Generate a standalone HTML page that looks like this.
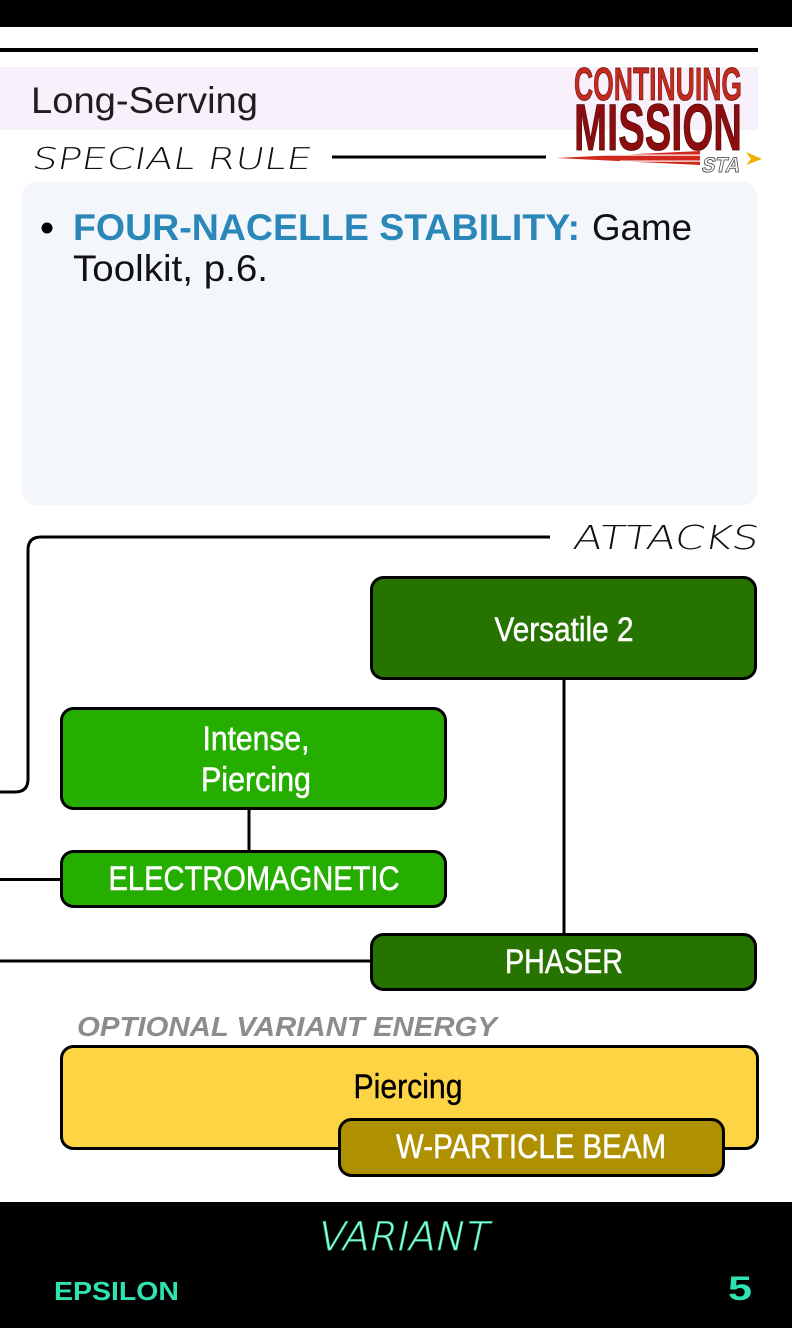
<!DOCTYPE html>
<html>
<head>
<meta charset="utf-8">
<style>
html,body{margin:0;padding:0;background:#fff;}
svg{display:block;}
text{font-family:"Liberation Sans",Arial,sans-serif;}
.thin{font-family:"DejaVu Sans","Liberation Sans",sans-serif;font-weight:200;}
.lbl{stroke:#fff;stroke-width:0.5;}
</style>
</head>
<body>
<svg width="792" height="1328" viewBox="0 0 792 1328" xmlns="http://www.w3.org/2000/svg">
  <!-- top bar -->
  <rect x="0" y="0" width="792" height="27" fill="#000"/>
  <rect x="0" y="48" width="758" height="4" fill="#000"/>
  <!-- lavender title band -->
  <rect x="0" y="67" width="758" height="63" fill="#f8f1fc"/>
  <text x="31" y="113" font-size="37" fill="#1e1e1e" textLength="227" lengthAdjust="spacingAndGlyphs">Long-Serving</text>

  <!-- SPECIAL RULE heading -->
  <g transform="translate(31,169) skewX(-10)">
    <text class="thin" x="0" y="0" font-size="30" fill="#111" textLength="279" lengthAdjust="spacingAndGlyphs">SPECIAL RULE</text>
  </g>
  <rect x="332" y="155.5" width="214" height="3" fill="#000"/>

  <!-- logo -->
  <g>
    <text x="574" y="100" font-size="46" font-weight="bold" fill="#c42b1f" stroke="#6a0d0d" stroke-width="0.8" textLength="168" lengthAdjust="spacingAndGlyphs">CONTINUING</text>
    <text x="574" y="150" font-size="66" font-weight="bold" fill="#8c0d0d" stroke="#4a0505" stroke-width="0.8" textLength="168" lengthAdjust="spacingAndGlyphs">MISSION</text>
    <polygon points="556,158 700,151 700,165" fill="#d0281c"/>
    <rect x="600" y="154.5" width="100" height="1.2" fill="#fff"/>
    <rect x="620" y="160.5" width="80" height="1.2" fill="#fff"/>
    <g transform="translate(701,172) skewX(-12)">
      <text x="0" y="0" font-size="21" font-weight="bold" fill="#fff" stroke="#555" stroke-width="0.9" textLength="38" lengthAdjust="spacingAndGlyphs">STA</text>
    </g>
    <polygon points="746,152 762,159 746,165 751,159" fill="#f0b000"/>
  </g>

  <!-- special rule box -->
  <rect x="22" y="182" width="735" height="323" rx="14" ry="14" fill="#f3f7fb"/>
  <circle cx="47" cy="228" r="5.5" fill="#000"/>
  <text x="73" y="240" font-size="37" font-weight="bold" fill="#2a87b8" textLength="507" lengthAdjust="spacingAndGlyphs">FOUR-NACELLE STABILITY:</text>
  <text x="592" y="240" font-size="37" fill="#111" textLength="100" lengthAdjust="spacingAndGlyphs">Game</text>
  <text x="73" y="281" font-size="37" fill="#111" textLength="195" lengthAdjust="spacingAndGlyphs">Toolkit, p.6.</text>

  <!-- ATTACKS heading -->
  <g transform="translate(572,549) skewX(-10)">
    <text class="thin" x="0" y="0" font-size="33" fill="#111" textLength="185" lengthAdjust="spacingAndGlyphs">ATTACKS</text>
  </g>
  <path d="M 550 537 H 41 Q 28 537 28 550 V 779 Q 28 792 15 792 H 0" fill="none" stroke="#000" stroke-width="3"/>

  <!-- connectors -->
  <line x1="564" y1="680" x2="564" y2="934" stroke="#000" stroke-width="3"/>
  <line x1="249" y1="809" x2="249" y2="852" stroke="#000" stroke-width="3"/>
  <line x1="0" y1="879.5" x2="62" y2="879.5" stroke="#000" stroke-width="3"/>
  <line x1="0" y1="961" x2="372" y2="961" stroke="#000" stroke-width="3"/>

  <!-- Versatile 2 -->
  <rect x="371.5" y="577.5" width="384" height="101" rx="12" ry="12" fill="#267300" stroke="#000" stroke-width="3"/>
  <text class="lbl" x="564" y="641" font-size="34" fill="#fff" text-anchor="middle" textLength="139" lengthAdjust="spacingAndGlyphs">Versatile 2</text>

  <!-- Intense, Piercing -->
  <rect x="61.5" y="708.5" width="384" height="100" rx="12" ry="12" fill="#25ae00" stroke="#000" stroke-width="3"/>
  <text class="lbl" x="256" y="750" font-size="34" fill="#fff" text-anchor="middle" textLength="107" lengthAdjust="spacingAndGlyphs">Intense,</text>
  <text class="lbl" x="256" y="791" font-size="34" fill="#fff" text-anchor="middle" textLength="110" lengthAdjust="spacingAndGlyphs">Piercing</text>

  <!-- ELECTROMAGNETIC -->
  <rect x="61.5" y="851.5" width="384" height="55" rx="12" ry="12" fill="#25ae00" stroke="#000" stroke-width="3"/>
  <text class="lbl" x="254" y="890" font-size="34" fill="#fff" text-anchor="middle" textLength="291" lengthAdjust="spacingAndGlyphs">ELECTROMAGNETIC</text>

  <!-- PHASER -->
  <rect x="371.5" y="934.5" width="384" height="55" rx="12" ry="12" fill="#267300" stroke="#000" stroke-width="3"/>
  <text class="lbl" x="564" y="973" font-size="34" fill="#fff" text-anchor="middle" textLength="118" lengthAdjust="spacingAndGlyphs">PHASER</text>

  <!-- Optional variant -->
  <text x="77" y="1036" font-size="28" font-weight="bold" font-style="italic" fill="#8c8c8c" textLength="420" lengthAdjust="spacingAndGlyphs">OPTIONAL VARIANT ENERGY</text>
  <rect x="61.5" y="1046.5" width="696" height="102" rx="12" ry="12" fill="#fdd444" stroke="#000" stroke-width="3"/>
  <text x="408" y="1098" font-size="34" fill="#000" stroke="#000" stroke-width="0.4" text-anchor="middle" textLength="109" lengthAdjust="spacingAndGlyphs">Piercing</text>
  <rect x="339.5" y="1119.5" width="384" height="56" rx="12" ry="12" fill="#ae9000" stroke="#000" stroke-width="3"/>
  <text class="lbl" x="531" y="1158" font-size="34" fill="#fff" text-anchor="middle" textLength="270" lengthAdjust="spacingAndGlyphs">W-PARTICLE BEAM</text>

  <!-- footer -->
  <rect x="0" y="1202" width="792" height="126" fill="#000"/>
  <g transform="translate(316,1250) skewX(-12)">
    <text class="thin" x="0" y="0" font-size="39" fill="#bff8e6" stroke="#2ee0a8" stroke-width="0.8" textLength="171" lengthAdjust="spacingAndGlyphs">VARIANT</text>
  </g>
  <text x="54" y="1300" font-size="26" font-weight="bold" fill="#2fe3b0" textLength="125" lengthAdjust="spacingAndGlyphs">EPSILON</text>
  <text x="728" y="1300" font-size="34" font-weight="bold" fill="#2fe3b0" textLength="24" lengthAdjust="spacingAndGlyphs">5</text>
</svg>
</body>
</html>
